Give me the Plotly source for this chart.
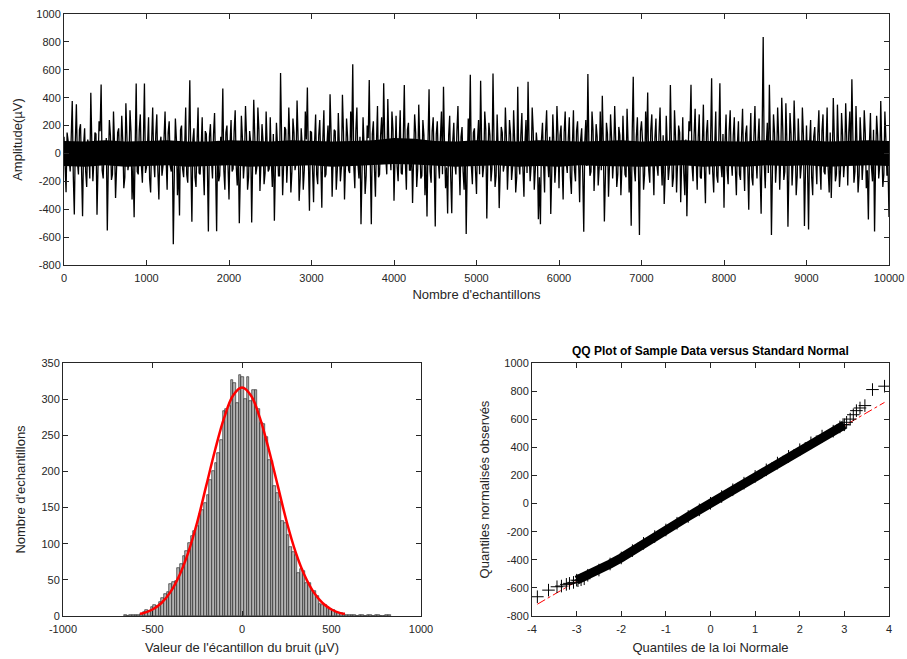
import plotly.graph_objects as go
import numpy as np

# ---------------- Top panel: noise trace ----------------
# local extremes read every 25 samples, plus the intermediate values between them
sample_step = 25
amplitude_peaks = [
    120, -278, 90, -130, 376, -438, 352, -150, 210, -450, 180, -240, 60, 435, -200, 150, -440, 230, 495, -180,
    -60, -552, 240, -190, 300, -320, 150, -80, 270, -250, 360, -120, 310, -330, -457, 502, -150, 280, -210, 502,
    -100, 260, -280, 330, -170, 280, -330, 120, -90, 300, -260, 230, -130, -652, 250, -300, -445, 200, -170, 330,
    -210, 524, -490, 180, -240, 330, -150, 260, -300, 140, -560, 210, -180, 290, -557, -200, 120, 466, -260, 200,
    -330, 240, -110, 310, -230, -500, 270, -180, 340, -260, 160, -495, 385, -150, 330, -270, 210, -220, 300, -130,
    260, -240, -483, 220, -160, 576, -300, 190, -210, 330, -280, 250, -120, 380, -340, 180, -260, 300, 473, -411,
    150, -350, 280, -220, 240, -390, 310, -150, 200, 425, -310, 170, -260, 290, -200, 420, -330, 250, -120, 300,
    640, -250, 330, -180, -507, 260, -290, 200, 526, -507, 230, -310, 340, -150, 260, 504, -90, 390, 20, 300,
    -339, 270, -200, 310, -150, 490, -260, 220, -120, -356, 280, -240, 350, -180, 240, -300, -452, 461, -210, 260,
    -523, 230, -180, 300, 478, -250, -430, 270, -428, 220, -150, 340, -300, 190, -260, -578, 250, 564, -220, 180,
    -290, 240, 521, -170, 300, -466, 220, -200, 574, -240, 280, -392, 190, -130, 330, -260, 240, -190, 310, -280,
    478, -150, 290, -310, 240, 514, -200, 330, -260, 150, -471, -507, 220, -280, 310, -170, -435, 280, -210, 340,
    -250, 200, -330, 300, -140, 260, -290, 310, -200, 230, -350, 180, -562, 240, 569, -160, 300, -270, 210, -230,
    300, 413, -488, 220, -310, 280, -180, 340, -240, 190, -300, 270, -150, 320, -280, -519, 550, -200, 260, -585,
    230, -260, 300, 437, -210, 280, -300, 250, -160, 330, -230, -363, 270, -190, 490, -240, 310, -280, 200, -350,
    260, -300, -450, 230, 493, -200, 320, -260, 280, -180, 350, -357, 240, -150, 540, -280, 300, -210, 504, -170,
    -390, 280, -220, 310, -160, 260, -300, 230, -190, 320, -270, 200, -404, 290, -230, 340, -180, 250, -433, 835,
    -250, 220, 493, -585, 280, -210, 330, -260, 400, -190, 360, -526, 290, -230, 380, -300, 250, -180, 330, -521,
    200, -545, 240, -300, 190, -220, 310, -260, 280, -150, 330, -280, -319, 397, -200, 350, -240, 290, -170, 360,
    -230, 300, 532, -210, 340, -280, 260, -190, 310, -250, -473, 290, -200, -559, 270, -180, 376, -240, 300, -160,
    -455,
]
amplitude_between = [
    -80, 150, -40, 120, -160, 90, -60, 170, -110, 60, -130, 100, -180, 70, -50, 140, -90, 160, -120, 50,
    110, -70, 130, -150, 60, -100, 180, -40, 90, -170, 120, -60, 150, -90, 40, -130, 170, -80, 100, -140,
    60, -180, 90, -50, 140, -120, 70, -160, 110, -40, 150, -90, 60, -130, 100, -70, 170, -110, 50, -150,
    130, -60, 100, -170, 80, -140, 40, -100, 160, -70, 120, -50, 140, -110, 90, -160, 60, -120, 150, -80,
    70, -130, 160, -90, 50, -150, 110, -60, 130, -170, 80, -40, 120, -100, 170, -70, 90, -140, 60, -110,
    -50, 140, -100, 60, -160, 120, -80, 170, -40, 90, -130, 150, -70, 110, -180, 50, -120, 100, -60, 160,
    -110, 80, -150, 130, -60, 100, -170, 70, -90, 140, -40, 160, -120, 60, -100, 150, -80, 120, -140, 90,
    -90, 160, -70, 120, -130, 50, -160, 110, -60, 140, -100, 80, -170, 130, -50, 100, -150, 70, -120, 170,
    120, -90, 60, -140, 100, -60, 170, -120, 80, -40, 150, -110, 70, -160, 130, -50, 90, -130, 160, -70,
    140, -60, 110, -150, 50, -100, 130, -170, 90, -70, 160, -40, 120, -130, 80, -110, 60, -90, 150, -120,
    100, -150, 60, -90, 170, -50, 130, -110, 70, -160, 40, -120, 150, -80, 110, -60, 140, -100, 90, -170,
    -60, 130, -110, 80, -140, 60, -90, 160, -120, 50, -170, 100, -70, 150, -40, 120, -130, 90, -80, 140,
    130, -80, 150, -60, 110, -170, 70, -120, 160, -50, 100, -140, 80, -90, 40, -130, 170, -70, 120, -100,
    -120, 60, -160, 140, -70, 110, -40, 90, -150, 130, -100, 50, -170, 80, -60, 150, -110, 120, -90, 160,
    90, -150, 70, -120, 170, -60, 110, -90, 140, -40, 130, -160, 50, -100, 80, -170, 120, -70, 150, -50,
    -140, 100, -60, 160, -90, 130, -50, 120, -170, 70, -110, 150, -40, 90, -130, 60, -160, 110, -80, 140,
    80, -120, 160, -50, 130, -100, 70, -150, 110, -60, 140, -90, 50, -170, 120, -40, 100, -130, 160, -70,
    60, -140, 90, -110, 150, -70, 120, -40, 170, -130, 80, -100, 140, -60, 110, -160, 50, -90, 130, -120,
    -100, 70, -170, 120, -50, 140, -90, 160, -130, 60, -110, 150, -40, 100, -150, 80, -120, 130, -60, 110,
    150, -80, 110, -130, 60, -160, 90, -50, 140, -120, 70, -100, 170, -60, 130, -90, 40, -150, 100, -70,
]
trace_x = [0.0]
trace_y = [amplitude_peaks[0]]
for i in range(len(amplitude_between)):
    trace_x += [sample_step * (i + 0.5), sample_step * (i + 1)]
    trace_y += [amplitude_between[i], amplitude_peaks[i + 1]]

# fully inked centre of the trace, read every 250 samples
core_step = 250
core_hi = [90, 85, 95, 85, 90, 95, 85, 85, 95, 90, 85, 95, 90, 85, 90, 95, 110, 105, 90, 85,
           95, 90, 85, 95, 90, 85, 90, 95, 85, 90, 95, 90, 85, 85, 95, 90, 95, 85, 90, 95, 90]
core_lo = [-90, -95, -85, -95, -90, -85, -95, -90, -85, -95, -95, -90, -85, -95, -90, -85, -75,
           -80, -90, -95, -90, -85, -95, -90, -95, -85, -90, -95, -95, -90, -85, -95, -90, -95,
           -85, -90, -85, -95, -90, -85, -90]
core_x = np.arange(len(core_hi)) * core_step

# ---------------- Histogram (100 bins) ----------------
hist_first_edge = -660.0
hist_bin_width = 14.9
hist_counts = [
    1, 0, 1, 1, 2, 2, 3, 6, 8, 7,
    13, 15, 14, 20, 25, 31, 33, 44, 47, 48,
    66, 72, 83, 90, 101, 110, 118, 124, 141, 147,
    157, 168, 188, 201, 212, 226, 243, 284, 286, 290,
    327, 323, 294, 333, 331, 300, 330, 297, 313, 313,
    286, 267, 266, 247, 216, 214, 180, 170, 158, 132,
    129, 112, 95, 88, 84, 60, 65, 62, 46, 46,
    34, 35, 27, 16, 15, 15, 13, 10, 8, 5,
    4, 4, 3, 2, 1, 1, 1, 0, 1, 1,
    0, 1, 1, 0, 1, 1, 0, 0, 1, 1,
]
hist_centers = hist_first_edge + hist_bin_width * (np.arange(len(hist_counts)) + 0.5)

fit_x = [-570, -550, -500, -450, -400, -350, -300, -250, -200, -150, -100, -50, 0,
         50, 100, 150, 200, 250, 300, 350, 400, 450, 500, 550, 575]
fit_y = [3, 4, 9, 18, 33, 56, 88, 130, 180, 230, 274, 305, 316,
         305, 274, 230, 180, 130, 88, 56, 33, 18, 9, 4, 3]

# ---------------- QQ plot ----------------
qq_band_x = [-3.0, -2.75, -2.5, -2.25, -2.0, -1.75, -1.5, -1.25, -1.0, -0.75, -0.5, -0.25, 0.0,
             0.25, 0.5, 0.75, 1.0, 1.25, 1.5, 1.75, 2.0, 2.25, 2.5, 2.75, 3.0]
qq_band_y = [-545, -510, -473, -430, -387, -335, -283, -235, -188, -140, -92, -45, 2,
             50, 98, 145, 193, 240, 288, 336, 383, 432, 480, 515, 560]
qq_tail_x = [-3.88, -3.63, -3.44, -3.34, -3.23, -3.16, -3.07, -2.97, -2.9, -2.83,
             2.9, 2.97, 3.05, 3.13, 3.20, 3.27, 3.35, 3.46, 3.63, 3.90]
qq_tail_y = [-663, -616, -592, -587, -575, -568, -561, -549, -542, -535,
             545, 562, 578, 601, 632, 661, 680, 697, 811, 835]
ref_x = [-3.88, 3.90]
ref_y = [-716, 720]

# tick values
top_x_ticks = list(range(0, 10001, 1000))
top_y_ticks = list(range(-800, 1001, 200))
hist_x_ticks = [-1000, -500, 0, 500, 1000]
hist_y_ticks = list(range(0, 351, 50))
qq_x_ticks = list(range(-4, 5))
qq_y_ticks = list(range(-800, 1001, 200))

W, H = 907, 659
FONT = "Liberation Sans, Arial, Helvetica, sans-serif"
AX = "#262626"


def dx(a, b):
    return [a / W, b / W]


def dy(top, bottom):
    return [1 - bottom / H, 1 - top / H]


fig = go.Figure()

fig.add_trace(go.Scatter(x=core_x, y=core_lo, mode="lines", line=dict(color="black", width=0),
                         xaxis="x", yaxis="y", showlegend=False, hoverinfo="skip"))
fig.add_trace(go.Scatter(x=core_x, y=core_hi, mode="lines", line=dict(color="black", width=0),
                         fill="tonexty", fillcolor="black",
                         xaxis="x", yaxis="y", showlegend=False, hoverinfo="skip"))
fig.add_trace(go.Scatter(x=trace_x, y=trace_y, mode="lines",
                         line=dict(color="black", width=1.3), xaxis="x", yaxis="y",
                         showlegend=False, hoverinfo="skip"))

fig.add_trace(go.Bar(x=hist_centers, y=hist_counts, width=hist_bin_width,
                     marker=dict(color="#b3b3b3", line=dict(color="#1a1a1a", width=0.6)),
                     xaxis="x2", yaxis="y2", showlegend=False))
fig.add_trace(go.Scatter(x=fit_x, y=fit_y, mode="lines", line=dict(color="red", width=2.5, shape="spline"),
                         xaxis="x2", yaxis="y2", showlegend=False))

fig.add_trace(go.Scatter(x=ref_x, y=ref_y, mode="lines", line=dict(color="red", width=1, dash="dashdot"),
                         xaxis="x3", yaxis="y3", showlegend=False))
fig.add_trace(go.Scatter(x=qq_band_x, y=qq_band_y, mode="lines+markers",
                         line=dict(color="black", width=9),
                         marker=dict(symbol="cross-thin", size=9, line=dict(color="black", width=1)),
                         xaxis="x3", yaxis="y3", showlegend=False))
fig.add_trace(go.Scatter(x=qq_tail_x, y=qq_tail_y, mode="markers",
                         marker=dict(symbol="cross-thin", size=9, line=dict(color="black", width=1)),
                         xaxis="x3", yaxis="y3", showlegend=False))


def ax(domain, rng, ticks, title, anchor, standoff, lab_standoff):
    return dict(domain=domain, range=rng, tickmode="array", tickvals=ticks, ticktext=[str(t) for t in ticks],
                showline=True, linecolor=AX, linewidth=1, automargin=False,
                mirror="ticks", ticks="inside", ticklen=5, tickcolor=AX, showgrid=False, zeroline=False,
                ticklabelstandoff=lab_standoff, ticklabeloverflow="allow",
                tickfont=dict(family=FONT, size=11, color=AX),
                title=dict(text=title, font=dict(family=FONT, size=13, color=AX), standoff=standoff),
                anchor=anchor)


fig.update_layout(
    width=W, height=H, margin=dict(l=0, r=0, t=0, b=0),
    paper_bgcolor="white", plot_bgcolor="white", bargap=0,
    font=dict(family=FONT, color=AX),
    xaxis=ax(dx(64, 889), [0, 10000], top_x_ticks, "Nombre d'echantillons", "y", 6, 3),
    yaxis=ax(dy(14, 265), [-800, 1000], top_y_ticks, "Amplitude(µV)", "x", 10, 0),
    xaxis2=ax(dx(63, 421), [-1000, 1000], hist_x_ticks, "Valeur de l'écantillon du bruit (µV)", "y2", 8, 3),
    yaxis2=ax(dy(363, 616), [0, 350], hist_y_ticks, "Nombre d'echantillons", "x2", 12, 0),
    xaxis3=ax(dx(532, 889), [-4, 4], qq_x_ticks, "Quantiles de la loi Normale", "y3", 8, 3),
    yaxis3=ax(dy(363, 616), [-800, 1000], qq_y_ticks, "Quantiles normalisés observés", "x3", 11, 0),
    annotations=[dict(text="<b>QQ Plot of Sample Data versus Standard Normal</b>",
                      xref="paper", yref="paper", x=(532 + 889) / 2 / W, y=1 - 351 / H,
                      xanchor="center", yanchor="middle", showarrow=False,
                      font=dict(family=FONT, size=12, color="black"))],
)

# remove the default page margin so the 907x659 figure fills the window exactly
fig.write_html("out.html", config={"displayModeBar": False},
               post_script="document.body.style.margin='0px';document.body.style.overflow='hidden';")
